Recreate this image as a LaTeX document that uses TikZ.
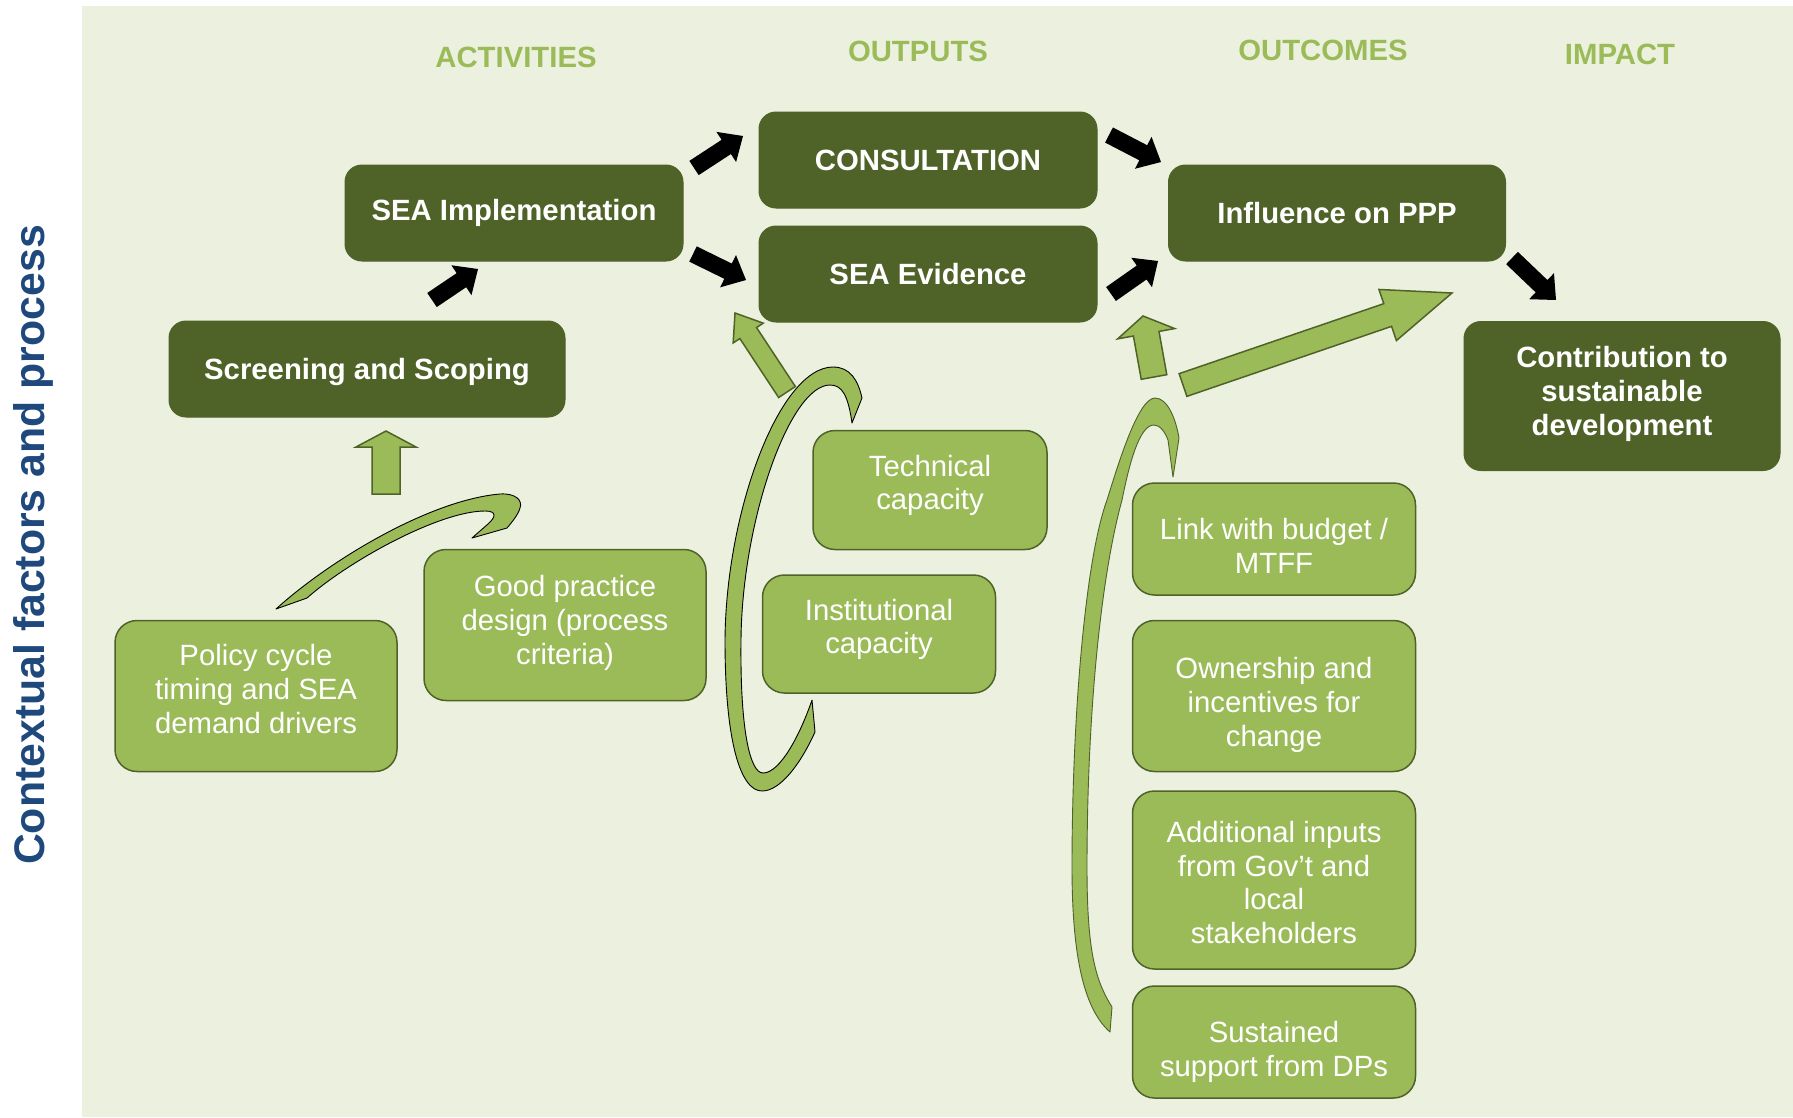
\documentclass[tikz,border=0pt]{standalone}
\usepackage{fontspec}
\setmainfont{Liberation Sans}
\usetikzlibrary{calc}

\definecolor{bgolive}{HTML}{EBF1DE}
\definecolor{olive}{HTML}{9BBB59}
\definecolor{olivedark}{HTML}{4F6228}
\definecolor{titleblue}{HTML}{1F497D}

% straight block arrow: style, tail, tip, half shaft width, half head width, head length
\newcommand{\blockarrow}[6]{%
  \coordinate (bahead) at ($(#3)!#6!(#2)$);
  \path[#1] ($(#2)!#4!90:(#3)$) -- ($(bahead)!#4!-90:(#2)$) -- ($(bahead)!#5!-90:(#2)$)
    -- (#3) -- ($(bahead)!#5!90:(#2)$) -- ($(bahead)!#4!90:(#2)$) -- ($(#2)!#4!-90:(#3)$) -- cycle;
}

\begin{document}
\begin{tikzpicture}[x=1pt,y=-1pt,
  darkbox/.style={rounded corners=17pt, fill=olivedark, draw=olivedark, line width=1pt,
    text=white, align=center, inner sep=0pt,
    font=\bfseries\fontsize{29.3}{34}\selectfont},
  lightbox/.style={rounded corners=22pt, fill=olive, draw=olivedark, line width=1.5pt},
  lighttext/.style={text=white, align=center, inner sep=0pt,
    font=\fontsize{29.3}{33.7}\selectfont},
  heading/.style={text=olive, inner sep=0pt, font=\bfseries\fontsize{29.3}{34}\selectfont},
  sidetitle/.style={text=titleblue, inner sep=0pt, font=\bfseries\fontsize{42.8}{48}\selectfont},
  blackarrow/.style={fill=black},
  greenarrow/.style={fill=olive, draw=olivedark, line width=1.5pt, line join=miter},
  curvearrow/.style={fill=olive, draw=black, line width=0.9pt, line join=round},
]
\useasboundingbox (0,0) rectangle (1793,1117);
\fill[white] (0,0) rectangle (1793,1117);
\fill[bgolive] (82,6) rectangle (1793,1117);

% side title
\node[sidetitle, rotate=90] (side) at (33,545) {Contextual factors and process};

% column headings
\node[heading] (hact) at (516,57) {ACTIVITIES};
\node[heading] (hout) at (918,51) {OUTPUTS};
\node[heading] (hocm) at (1323,50) {OUTCOMES};
\node[heading] (himp) at (1620,54) {IMPACT};

% main chain
\node[darkbox, minimum width=396pt, minimum height=96pt] (scr) at (367,369) {};
\node[darkbox] (scr-t) at ($(scr.center)+(0,3)$) {Screening and Scoping};
\node[darkbox, minimum width=338pt, minimum height=96pt] (impl) at (514,213) {SEA Implementation};
\node[darkbox, minimum width=338pt, minimum height=96pt] (cons) at (928,160) {CONSULTATION};
\node[darkbox, minimum width=338pt, minimum height=96pt] (evid) at (928,274) {SEA Evidence};
\node[darkbox, minimum width=337pt, minimum height=96pt] (infl) at (1337,213) {Influence on PPP};
\node[darkbox, minimum width=316pt, minimum height=149pt] (contrib) at (1622,396) {};
\node[darkbox] (contrib-t) at ($(contrib.center)+(0,-2)$) {Contribution to\\sustainable\\development};

% contextual factors: box, then its text
\node[lightbox, minimum width=282pt, minimum height=151pt] (policy) at (256,696) {};
\node[lighttext] (policy-t) at ($(policy.center)+(0,-7)$) {Policy cycle\\timing and SEA\\demand drivers};
\node[lightbox, minimum width=282pt, minimum height=151pt] (good) at (565,625) {};
\node[lighttext] (good-t) at ($(good.center)+(0,-2)$) {Good practice\\design (process\\criteria)};
\node[lightbox, minimum width=234pt, minimum height=119pt] (tech) at (930,490) {};
\node[lighttext] (tech-t) at ($(tech.center)+(0,-4.5)$) {Technical\\capacity};
\node[lightbox, minimum width=233pt, minimum height=118pt] (inst) at (879,634) {};
\node[lighttext] (inst-t) at ($(inst.center)+(0,-4.5)$) {Institutional\\capacity};
\node[lightbox, minimum width=283pt, minimum height=112pt] (link) at (1274,539) {};
\node[lighttext] (link-t) at ($(link.center)+(0,7)$) {Link with budget /\\MTFF};
\node[lightbox, minimum width=283pt, minimum height=151pt] (own) at (1274,696) {};
\node[lighttext] (own-t) at ($(own.center)+(0,9)$) {Ownership and\\incentives for\\change};
\node[lightbox, minimum width=283pt, minimum height=178pt] (addl) at (1274,880) {};
\node[lighttext] (addl-t) at ($(addl.center)+(0,2.5)$) {Additional inputs\\from Gov’t and\\local\\stakeholders};
\node[lightbox, minimum width=283pt, minimum height=112pt] (sust) at (1274,1042) {};
\node[lighttext] (sust-t) at ($(sust.center)+(0,10)$) {Sustained\\support from DPs};

% black arrows between the main boxes
\coordinate (k1a) at (432,300);  \coordinate (k1b) at (478,269);
\coordinate (k2a) at (694,168);  \coordinate (k2b) at (743,136);
\coordinate (k3a) at (693,254);  \coordinate (k3b) at (746,280);
\coordinate (k4a) at (1109,135); \coordinate (k4b) at (1161,162);
\coordinate (k5a) at (1111,294); \coordinate (k5b) at (1158,261);
\coordinate (k6a) at (1512,258); \coordinate (k6b) at (1556,300);
\blockarrow{blackarrow}{k1a}{k1b}{8.5pt}{18pt}{20pt}
\blockarrow{blackarrow}{k2a}{k2b}{8.5pt}{18pt}{20pt}
\blockarrow{blackarrow}{k3a}{k3b}{8.5pt}{18pt}{20pt}
\blockarrow{blackarrow}{k4a}{k4b}{8.5pt}{18pt}{20pt}
\blockarrow{blackarrow}{k5a}{k5b}{8.5pt}{18pt}{20pt}
\blockarrow{blackarrow}{k6a}{k6b}{8.5pt}{18pt}{20pt}

% green arrows from the contextual factors
\coordinate (g1a) at (386,494);  \coordinate (g1b) at (386,431);
\coordinate (g2a) at (787,392);  \coordinate (g2b) at (735,313);
\coordinate (g3a) at (1154,377); \coordinate (g3b) at (1143,316);
\coordinate (g4a) at (1183,385); \coordinate (g4b) at (1452,293);
\blockarrow{greenarrow}{g1a}{g1b}{14pt}{30pt}{16pt}
\blockarrow{greenarrow}{g2a}{g2b}{10pt}{18pt}{24pt}
\blockarrow{greenarrow}{g3a}{g3b}{13pt}{29pt}{18pt}
\blockarrow{greenarrow}{g4a}{g4b}{12pt}{27pt}{68pt}

% curved arrow over the policy and good practice boxes
\path[curvearrow] (276,609) .. controls (330,560) and (430,500) .. (500,494)
  .. controls (515,493) and (523,500) .. (520,508)
  .. controls (518,515) and (512,522) .. (507,528)
  -- (472,538) -- (488,524)
  .. controls (496,517) and (497,511) .. (485,511)
  .. controls (440,511) and (350,560) .. (307,598) -- cycle;

% loop around the capacity boxes
\path[curvearrow] (862,398) -- (852,423)
  .. controls (848,395) and (842,385) .. (830,385)
  .. controls (790,385) and (742,520) .. (741,640)
  .. controls (740,730) and (750,773) .. (763,773)
  .. controls (780,773) and (800,735) .. (812,700)
  -- (815,732)
  .. controls (800,765) and (780,791) .. (762,791)
  .. controls (740,791) and (725,740) .. (725,640)
  .. controls (726,510) and (780,367) .. (833,367)
  .. controls (850,367) and (858,380) .. (862,398) -- cycle;

% tall arc beside the outcome factors
\path[curvearrow, draw=olivedark] (1110,1032)
  .. controls (1085,1010) and (1072,960) .. (1072,867)
  .. controls (1072,720) and (1085,560) .. (1107,500)
  .. controls (1118,465) and (1138,398) .. (1155,398)
  .. controls (1168,398) and (1176,420) .. (1179,438)
  -- (1173,477) -- (1168,440)
  .. controls (1165,432) and (1160,425) .. (1154,425)
  .. controls (1140,425) and (1130,460) .. (1122,500)
  .. controls (1100,580) and (1087,720) .. (1087,867)
  .. controls (1087,950) and (1095,980) .. (1112,1007) -- cycle;
\end{tikzpicture}
\end{document}
